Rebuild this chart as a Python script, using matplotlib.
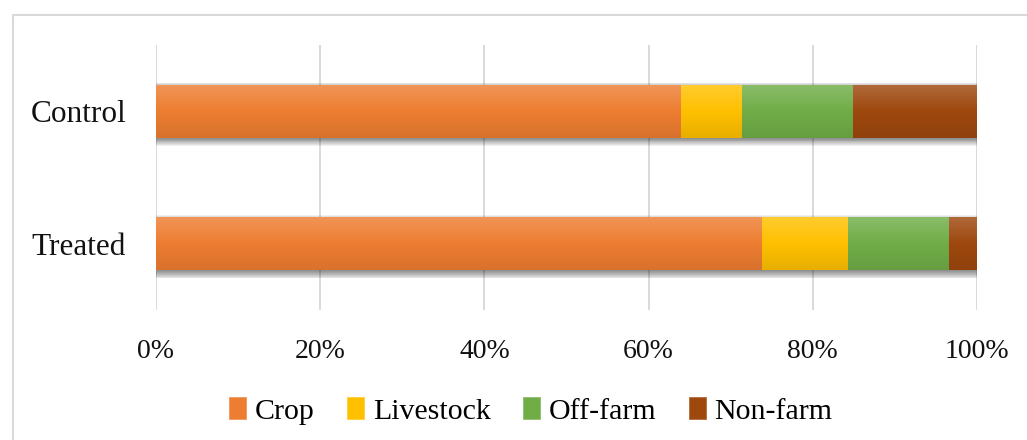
import numpy as np
import matplotlib
matplotlib.use("Agg")
import matplotlib.pyplot as plt
from matplotlib.patches import Rectangle
from matplotlib.colors import to_rgb

# Income source shares (%) by group
groups = ["Treated", "Control"]
sources = ["Crop", "Livestock", "Off-farm", "Non-farm"]
crop = [73.8, 63.9]
livestock = [10.5, 7.5]
off_farm = [12.3, 13.5]
non_farm = [3.4, 15.1]
xticks = [0, 20, 40, 60, 80, 100]
xtick_labels = ["0%", "20%", "40%", "60%", "80%", "100%"]

colors = ["#ED7D31", "#FFC000", "#70AD47", "#9E480E"]
series = [crop, livestock, off_farm, non_farm]

plt.rcParams["font.family"] = ["Liberation Serif", "DejaVu Serif"]

W, H = 1027, 440
fig = plt.figure(figsize=(W / 100, H / 100), dpi=100)
ax = fig.add_axes([156 / W, 1 - 310 / H, (977 - 156) / W, (310 - 45) / H])

# outer chart frame (left and top edges)
fig.patches.append(Rectangle((13 / W, -0.2), 1.2, 1.2 - 15.5 / H,
                             transform=fig.transFigure, fill=False,
                             edgecolor="#D9D9D9", linewidth=1.5, zorder=0))

bar_h = 0.40
ypos = np.arange(len(groups))
ax.set_xlim(0, 100)
ax.set_ylim(-0.5, 1.5)

px_x = 100 / (977 - 156)
px_y = 2.0 / (310 - 45)


def shade(c, f):
    r = np.array(to_rgb(c))
    if f >= 0:
        return r + (1 - r) * f
    return r * (1 + f)


# soft drop shadow under each stacked bar
totals = np.sum(series, axis=0)
for y, tot in zip(ypos, totals):
    n = 9
    for k in range(n):
        g = k * 0.9
        ax.add_patch(Rectangle((2 * px_x - g * px_x, y - bar_h / 2 - 1 * px_y - g * px_y),
                               tot + 2 * g * px_x - 4 * px_x, bar_h - 4 * px_y + 2 * g * px_y,
                               facecolor="black", edgecolor="none", alpha=0.06, zorder=1.5))

left = np.zeros(len(groups))
for vals, col, name in zip(series, colors, sources):
    bars = ax.barh(ypos, vals, left=left, height=bar_h, color=col, label=name,
                   edgecolor="none", zorder=2)
    # vertical gradient: lighter at the top, darker at the bottom
    stops = np.array([shade(col, -0.09), shade(col, 0.0), shade(col, 0.18)])
    t = np.linspace(0, 1, 64)
    grad = np.empty((64, 1, 3))
    for ch in range(3):
        grad[:, 0, ch] = np.interp(t, [0, 0.5, 1], stops[:, ch])
    for b in bars:
        x0, y0 = b.get_x(), b.get_y()
        im = ax.imshow(grad, origin="lower", aspect="auto",
                       extent=(x0, x0 + b.get_width(), y0, y0 + b.get_height()),
                       zorder=2.1, interpolation="bilinear")
        im.set_clip_path(b)
    left += np.array(vals)

ax.set_xlim(0, 100)
ax.set_ylim(-0.5, 1.5)
ax.set_yticks(ypos)
ax.set_yticklabels(groups, fontsize=22.5, color="#111111")
ax.set_xticks(xticks)
ax.set_xticklabels(xtick_labels, fontsize=20, color="#111111")
ax.tick_params(axis="both", length=0)
ax.tick_params(axis="y", pad=21.5)
ax.tick_params(axis="x", pad=21)
ax.grid(axis="x", color="#D9D9D9", linewidth=1.4, zorder=0)
ax.set_axisbelow(True)
for s in ax.spines.values():
    s.set_visible(False)

handles = [Rectangle((0, 0), 1, 1, facecolor=c, edgecolor=shade(c, 0.2), linewidth=0.6)
           for c in colors]
fig.legend(handles, sources, loc="center", bbox_to_anchor=(531 / W, 1 - 411 / H),
           ncol=4, frameon=False, fontsize=21.5, handlelength=0.55, handleheight=0.75,
           handletextpad=0.3, columnspacing=1.1)

fig.savefig("out.png", dpi=100, facecolor="white")
